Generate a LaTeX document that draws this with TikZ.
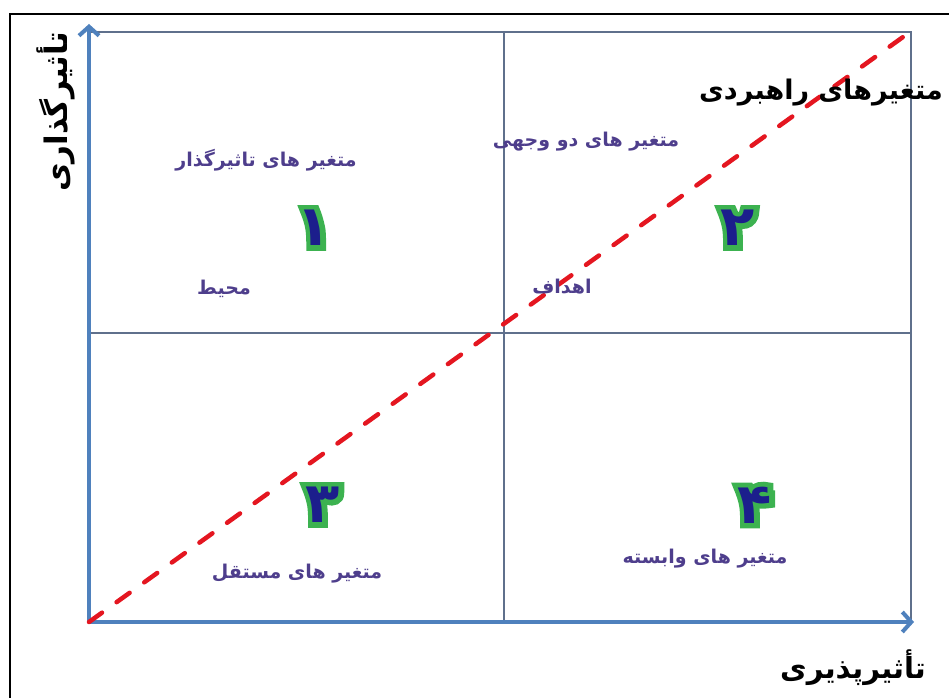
\documentclass[tikz,border=0pt]{standalone}
\usepackage{fontspec}
\usetikzlibrary{arrows.meta}

\newfontfamily\fa[Script=Arabic]{DejaVu Sans}
\newfontfamily\faglow[Script=Arabic,FakeBold=18]{DejaVu Sans}
\TeXXeTstate=1

\definecolor{axisblue}{RGB}{79,129,189}
\definecolor{gridline}{RGB}{95,112,140}
\definecolor{diagred}{RGB}{228,22,32}
\definecolor{catpurple}{RGB}{78,62,140}
\definecolor{numblue}{RGB}{28,30,140}
\definecolor{numgreen}{RGB}{60,178,80}

\begin{document}
\begin{tikzpicture}[x=1pt,y=-1pt,
    grid/.style={draw=gridline,line width=1.5pt},
    axis/.style={draw=axisblue,line width=4pt,-{Straight Barb[length=9pt,width=20pt]}},
    diag/.style={draw=diagred,line width=4.5pt,line cap=round,dash pattern=on 16pt off 18pt},
    title/.style={font=\fa\bfseries\fontsize{29}{32}\selectfont,text=black},
    cat/.style={font=\fa\bfseries\fontsize{19}{22}\selectfont,text=catpurple},
    num/.style={font=\fa\bfseries\fontsize{56}{60}\selectfont,text=numblue},
    glow/.style={font=\faglow\bfseries\fontsize{56}{60}\selectfont,text=numgreen}]
  \useasboundingbox (0,0) rectangle (949,698);
  % outer frame, cut by the page on the right and bottom
  \draw[line width=1.5pt] (949,14) -| (10,698);
  % grid
  \coordinate (O)  at (89,622);
  \coordinate (tl) at (89,32);
  \coordinate (tr) at (911,32);
  \coordinate (br) at (911,622);
  \coordinate (mt) at (504,32);
  \coordinate (mb) at (504,622);
  \coordinate (ml) at (89,333);
  \coordinate (mr) at (911,333);
  \draw[grid] (tl) -- (tr) -- (br);
  \draw[grid] (mt) -- (mb);
  \draw[grid] (ml) -- (mr);
  % axes
  \coordinate (yend) at (89,24);
  \coordinate (xend) at (914,622);
  \draw[axis] (O) -- (yend);
  \draw[axis] (O) -- (xend);
  % diagonal
  \coordinate (dend) at (903,37);
  \draw[diag] (O) -- (dend);
  % axis titles
  \node[title,font=\fa\bfseries\fontsize{31}{34}\selectfont,rotate=90] (infl) at (56,112) {\beginR تأثیرگذاری\endR};
  \node[title] (dep) at (853,668) {\beginR تأثیرپذیری\endR};
  \node[title,font=\fa\bfseries\fontsize{27}{30}\selectfont] (strat) at (821,93) {\beginR متغیرهای راهبردی\endR};
  % quadrant labels
  \node[cat] (c1) at (266,160) {\beginR متغیر های تاثیرگذار\endR};
  \node[cat] (env) at (224,289) {\beginR محیط\endR};
  \node[cat] (c2) at (586,142) {\beginR متغیر های دو وجهی\endR};
  \node[cat] (goal) at (562,287) {\beginR اهداف\endR};
  \node[cat] (c3) at (297,574) {\beginR متغیر های مستقل\endR};
  \node[cat] (c4) at (705,559) {\beginR متغیر های وابسته\endR};
  % quadrant numbers, green halo under blue digit
  \node[glow] (q1g) at (314,228) {۱};
  \node[num]  (q1)  at (q1g) {۱};
  \node[glow] (q2g) at (738,228) {۲};
  \node[num]  (q2)  at (q2g) {۲};
  \node[glow] (q3g) at (323,505) {۳};
  \node[num]  (q3)  at (q3g) {۳};
  \node[glow] (q4g) at (755,505) {۴};
  \node[num]  (q4)  at (q4g) {۴};
\end{tikzpicture}
\end{document}
